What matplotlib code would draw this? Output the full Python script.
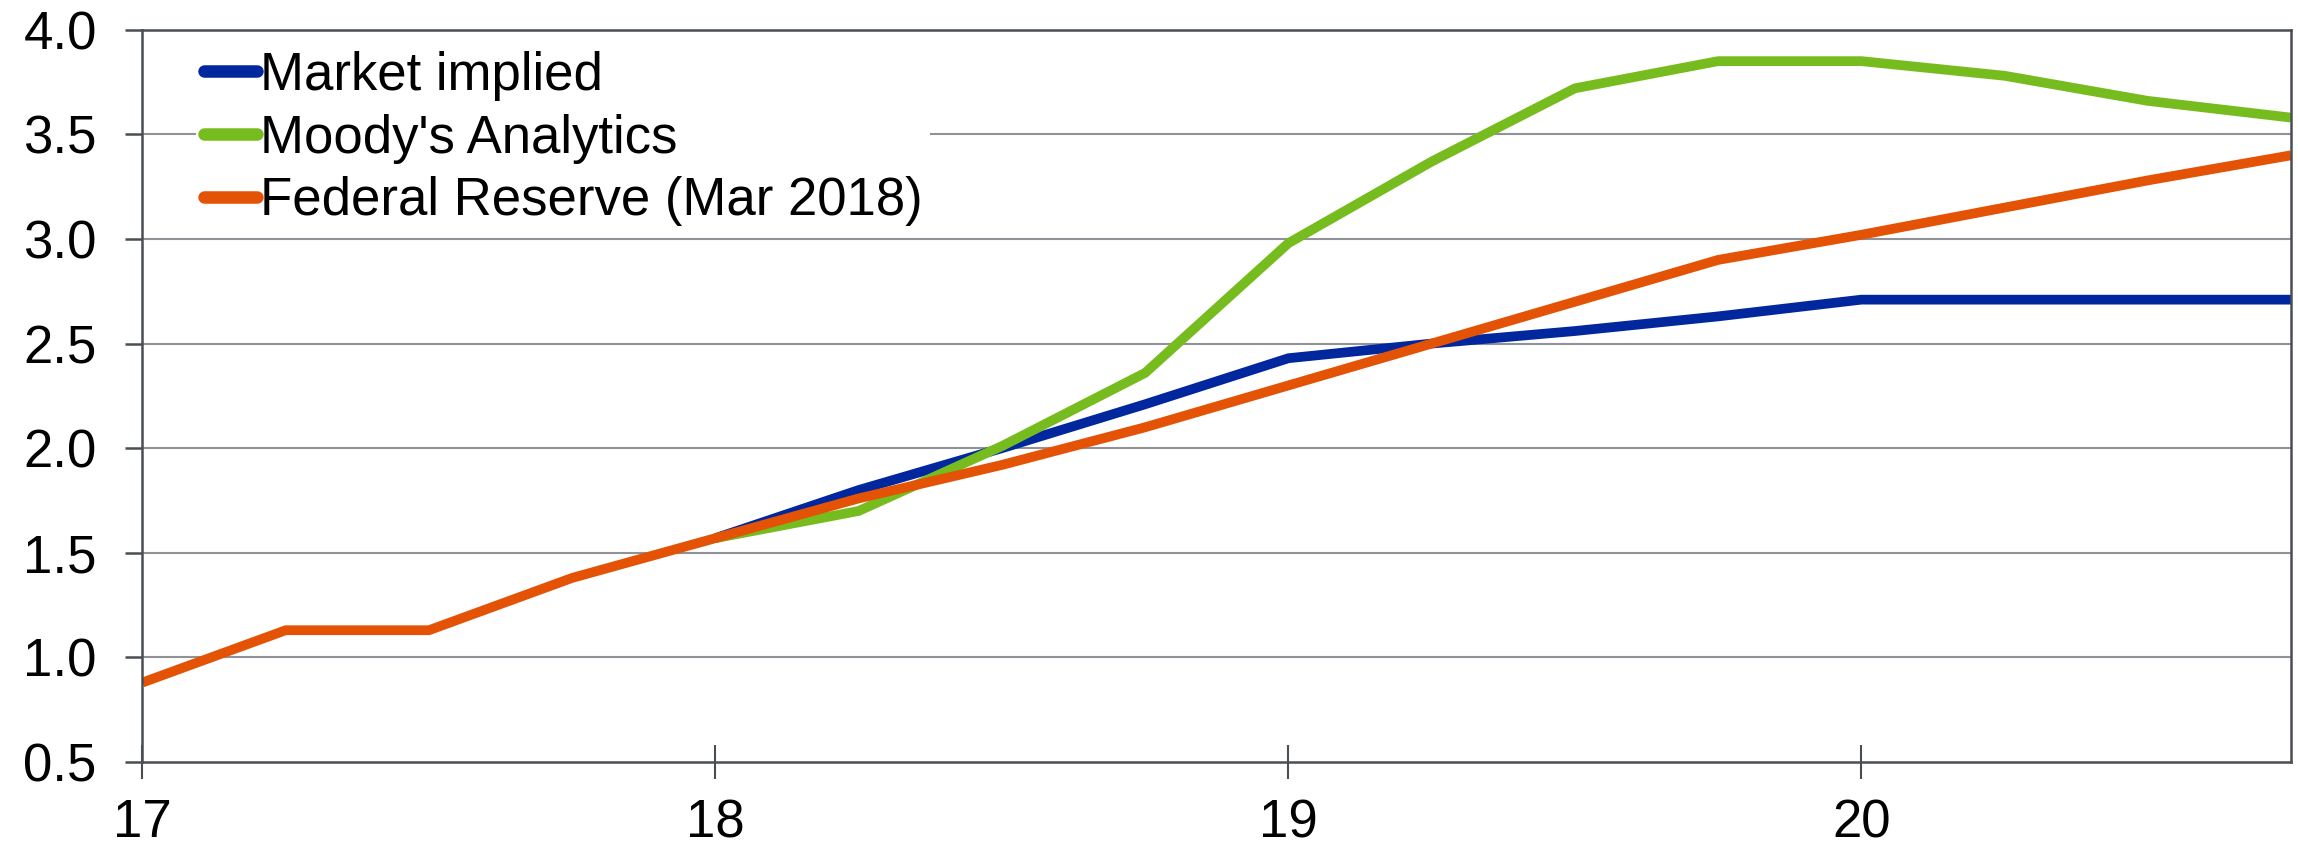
import numpy as np
import matplotlib
matplotlib.use("Agg")
import matplotlib.pyplot as plt

# quarterly points, year as 2-digit number
quarters = [17.0, 17.25, 17.5, 17.75, 18.0, 18.25, 18.5, 18.75,
            19.0, 19.25, 19.5, 19.75, 20.0, 20.25, 20.5, 20.75]

nan = np.nan
market_implied = [nan, nan, nan, nan, 1.57, 1.80, 2.00, 2.21,
                  2.43, 2.50, 2.56, 2.63, 2.71, 2.71, 2.71, 2.71]
moodys = [nan, nan, nan, nan, 1.57, 1.70, 2.01, 2.36,
          2.98, 3.37, 3.72, 3.85, 3.85, 3.78, 3.66, 3.58]
fed_reserve = [0.88, 1.13, 1.13, 1.38, 1.57, 1.76, 1.92, 2.10,
               2.30, 2.50, 2.70, 2.90, 3.02, 3.15, 3.28, 3.40]

series_names = ["Market implied", "Moody's Analytics", "Federal Reserve (Mar 2018)"]
series_colors = ["#00279E", "#77BC1F", "#E35205"]

x_ticks = [17, 18, 19, 20]
y_ticks = [0.5, 1.0, 1.5, 2.0, 2.5, 3.0, 3.5, 4.0]

# Arial-metric font
plt.rcParams["font.family"] = ["Liberation Sans", "DejaVu Sans"]

fig = plt.figure(figsize=(22.98, 8.5), dpi=100)
ax = fig.add_axes([0.062, 0.1035, 0.935, 0.8615])

all_series = [market_implied, moodys, fed_reserve]
lines = []
for vals, name, col in zip(all_series, series_names, series_colors):
    ln, = ax.plot(quarters, vals, color=col, lw=7, label=name,
                  solid_joinstyle="miter", solid_capstyle="butt")
    lines.append(ln)

ax.set_xlim(17, 20.75)
ax.set_ylim(0.5, 4.0)
ax.set_xticks(x_ticks)
ax.set_xticklabels([str(v) for v in x_ticks])
ax.set_yticks(y_ticks)
ax.set_yticklabels([f"{v:.1f}" for v in y_ticks])

# grid
for v in y_ticks[1:-1]:
    ax.axhline(v, color="#8F9397", lw=1.5, zorder=0)

spine_col = "#4A4E52"
for s in ax.spines.values():
    s.set_color(spine_col)
    s.set_linewidth(1.8)

ax.tick_params(axis="y", direction="out", length=12, width=1.8, color=spine_col,
               labelsize=38, pad=21)
ax.tick_params(axis="x", direction="inout", length=24, width=1.5, color=spine_col,
               labelsize=38, pad=14)

leg = ax.legend(handles=lines, loc="upper left", bbox_to_anchor=(0.025, 0.982),
                fontsize=38, frameon=True, facecolor="white", edgecolor="none",
                framealpha=1, handlelength=1.0, handletextpad=0.05,
                labelspacing=0.24, borderpad=0.15, borderaxespad=0)
for h in leg.get_lines():
    h.set_linewidth(9)
    h.set_solid_capstyle("round")

fig.savefig("out.png", dpi=100, facecolor="white")
